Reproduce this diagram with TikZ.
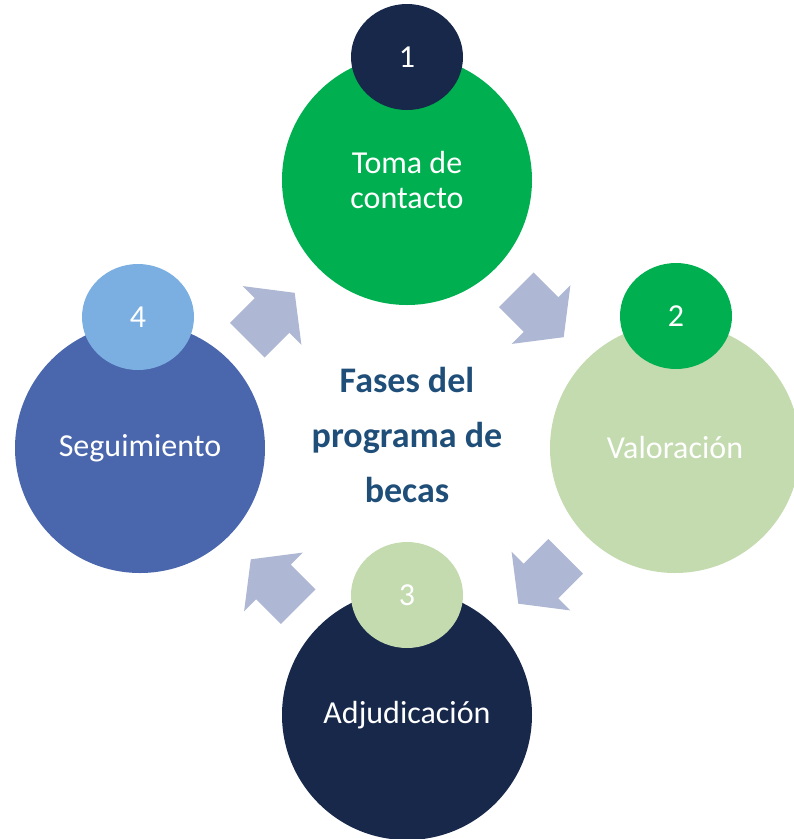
\documentclass[tikz,border=0pt]{standalone}
\usepackage{fontspec}
\setmainfont{Carlito}
\usetikzlibrary{shapes.geometric}
\definecolor{cgreen}{HTML}{00B050}
\definecolor{cnavy}{HTML}{17284A}
\definecolor{clgreen}{HTML}{C3DBAF}
\definecolor{cblue}{HTML}{4A66AC}
\definecolor{clblue}{HTML}{7BAFE2}
\definecolor{carrow}{HTML}{AEB7D3}
\definecolor{ctitle}{HTML}{1F4E79}
\tikzset{
  bigc/.style={circle, minimum size=250pt, inner sep=0pt, text=white, align=center,
    font=\fontsize{32}{35}\selectfont},
  smallc/.style={ellipse, minimum width=112pt, minimum height=106pt, inner sep=0pt, text=white,
    font=\fontsize{32}{35}\selectfont},
  titletext/.style={align=center, text=ctitle, inner sep=0pt,
    font=\fontsize{36}{55}\selectfont\bfseries},
  blockarrow/.pic={\fill[carrow] (-33.5,-24.5) -- (1.5,-24.5) -- (1.5,-41.5) -- (33.5,0)
    -- (1.5,41.5) -- (1.5,24.5) -- (-33.5,24.5) -- cycle;}
}
\begin{document}
\begin{tikzpicture}[x=1pt, y=-1pt]
\useasboundingbox (0,0) rectangle (794,839);
\clip (0,0) rectangle (794,839);
% big circles
\node[bigc, fill=cgreen] (p1) at (407,180) {Toma de\\contacto};
\node[bigc, fill=clgreen] (p2) at (675,448) {Valoración};
\node[bigc, fill=cnavy] (p3) at (407,715) {Adjudicación};
\node[bigc, fill=cblue] (p4) at (140,448) {Seguimiento};
% small number circles
\node[smallc, fill=cnavy] (n1) at (407,57) {1};
\node[smallc, fill=cgreen] (n2) at (676,316) {2};
\node[smallc, fill=clgreen] (n3) at (407,595) {3};
\node[smallc, fill=clblue] (n4) at (138,317) {4};
% centre title
\node[titletext] (title) at (407,435) {Fases del\\programa de\\becas};
% block arrows
\pic[rotate=-45] at (540,313.5) {blockarrow};
\pic[rotate=-135] at (542,580) {blockarrow};
\pic[rotate=135] at (274.5,583) {blockarrow};
\pic[rotate=45] at (271,316.5) {blockarrow};
\end{tikzpicture}
\end{document}
